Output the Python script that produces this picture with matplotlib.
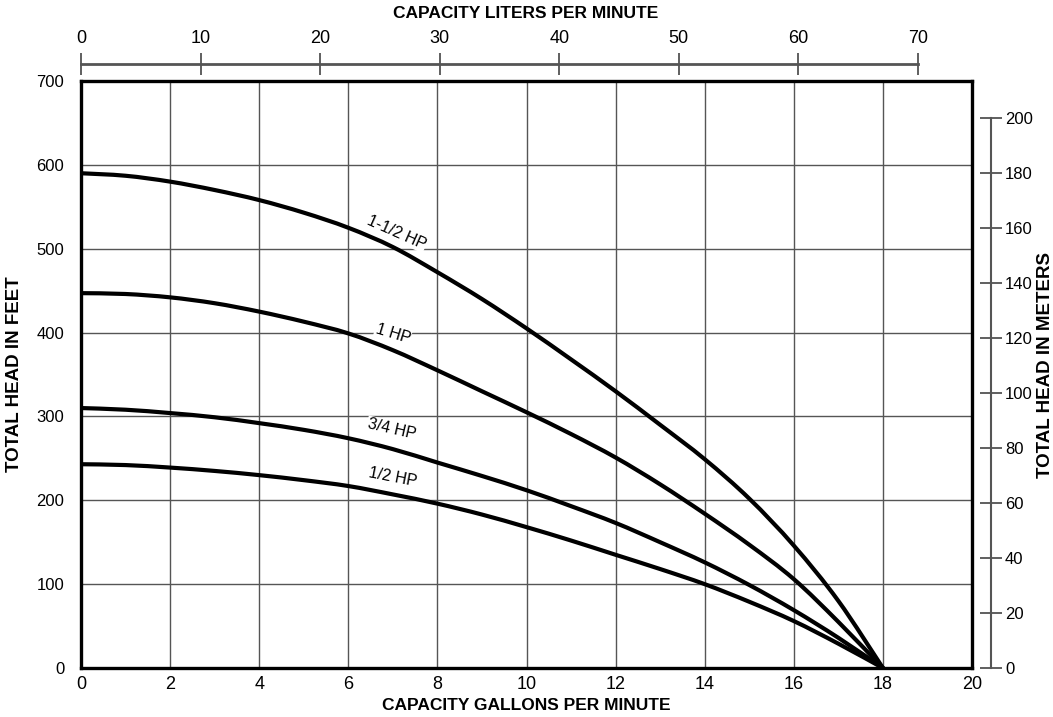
import matplotlib
matplotlib.use("Agg")
import matplotlib.pyplot as plt
from matplotlib import font_manager as fm
from matplotlib.path import Path
from matplotlib.patches import PathPatch
import numpy as np

# ---- data ----
gpm = [0, 1, 2, 3, 4, 5, 6, 7, 8, 9, 10, 11, 12, 13, 14, 15, 16, 17, 18]
head_1_5hp = [590, 587, 580, 570, 558, 543, 525, 502, 472, 440, 405, 368, 330, 290, 249, 202, 146, 80, 0]
head_1hp = [447, 446, 442, 435, 425, 413, 399, 379, 355, 330, 305, 279, 251, 219, 184, 147, 106, 55, 0]
head_3_4hp = [310, 308, 304, 299, 292, 284, 274, 261, 245, 229, 212, 193, 173, 150, 126, 99, 69, 36, 0]
head_1_2hp = [243, 242, 239, 235, 230, 224, 217, 207, 196, 183, 168, 152, 135, 118, 100, 79, 56, 29, 0]
series_names = ["1-1/2 HP", "1 HP", "3/4 HP", "1/2 HP"]
series_values = [head_1_5hp, head_1hp, head_3_4hp, head_1_2hp]
label_pos = [(7.08, 519), (7.0, 399), (6.97, 285), (7.0, 227)]
label_rot = [-24, -17, -13, -11]

gpm_ticks = list(range(0, 21, 2))
feet_ticks = list(range(0, 701, 100))
liter_ticks = list(range(0, 71, 10))
meter_ticks = list(range(0, 201, 20))

# ---- fonts ----
names = {f.name for f in fm.fontManager.ttflist}
narrow = "Liberation Sans Narrow" if "Liberation Sans Narrow" in names else "Liberation Sans"
reg = "Liberation Sans"

W, H = 1053, 717
fig = plt.figure(figsize=(W / 100, H / 100), dpi=100)

def fx(px):
    return px / W

def fy(py):
    return 1 - py / H

def smooth_path(xs, ys):
    # Catmull-Rom through the data points, drawn as cubic Bezier segments
    P = np.column_stack([xs, ys]).astype(float)
    n = len(P)
    verts = [P[0]]
    codes = [Path.MOVETO]
    for i in range(n - 1):
        p0 = P[i - 1] if i > 0 else P[i]
        p1 = P[i]
        p2 = P[i + 1]
        p3 = P[i + 2] if i + 2 < n else P[i + 1]
        c1 = p1 + (p2 - p0) / 6.0
        c2 = p2 - (p3 - p1) / 6.0
        verts += [c1, c2, p2]
        codes += [Path.CURVE4] * 3
    return Path(verts, codes)

L, R, T, B = 81, 972, 81, 668
ax = fig.add_axes([fx(L), fy(B), fx(R - L), fy(T) - fy(B)])
ax.set_xlim(0, 20)
ax.set_ylim(0, 700)
ax.set_xticks(gpm_ticks)
ax.set_yticks(feet_ticks)
ax.grid(True, color="#555555", linewidth=1.0)
ax.set_axisbelow(True)
for s in ax.spines.values():
    s.set_linewidth(2.4)
    s.set_color("black")
ax.tick_params(axis="both", length=0)
ax.tick_params(axis="x", pad=6)
ax.tick_params(axis="y", pad=12)
for lab in ax.get_xticklabels():
    lab.set_fontfamily(narrow)
    lab.set_fontsize(13)
for lab in ax.get_yticklabels():
    lab.set_fontfamily(reg)
    lab.set_fontsize(12)

for name, vals, pos, rot in zip(series_names, series_values, label_pos, label_rot):
    patch = PathPatch(smooth_path(gpm, vals), facecolor="none", edgecolor="black",
                      linewidth=3.0, capstyle="round", joinstyle="round", zorder=3)
    ax.add_patch(patch)
    ax.text(pos[0], pos[1], name, rotation=rot, rotation_mode="anchor",
            ha="center", va="center", fontsize=11.5, family=reg, zorder=4,
            bbox=dict(facecolor="white", edgecolor="none", pad=0.5))

# ---- top liters scale ----
axt = fig.add_axes([fx(81), fy(64), fx(918 - 81), 0.0001])
axt.set_xlim(0, 70)
axt.set_ylim(0, 1)
for k in ["left", "right", "bottom"]:
    axt.spines[k].set_visible(False)
axt.spines["top"].set_linewidth(2.0)
axt.spines["top"].set_color("#555555")
axt.set_yticks([])
axt.xaxis.tick_top()
axt.set_xticks(liter_ticks)
axt.tick_params(axis="x", direction="inout", length=16, width=1.2, color="#444444",
                pad=4, labelsize=13)
for lab in axt.get_xticklabels():
    lab.set_fontfamily(narrow)
axt.patch.set_visible(False)

# ---- right meters scale ----
ft_per_m = 1 / 0.3048
axr = fig.add_axes([fx(991), fy(B), 0.0001, fy(T) - fy(B)])
axr.set_ylim(0, 700 / ft_per_m)
axr.set_xticks([])
for k in ["right", "top", "bottom"]:
    axr.spines[k].set_visible(False)
axr.spines["left"].set_linewidth(1.5)
axr.spines["left"].set_color("#555555")
axr.spines["left"].set_bounds(0, 200)
axr.set_yticks(meter_ticks)
axr.tick_params(axis="y", left=True, right=False, labelleft=False, labelright=True,
                direction="inout", length=16, width=1.2, color="#444444", pad=2,
                labelsize=12)
for lab in axr.get_yticklabels():
    lab.set_fontfamily(reg)
axr.patch.set_visible(False)

# ---- titles ----
fig.text(fx(526), fy(13), "CAPACITY LITERS PER MINUTE", ha="center", va="center",
         family=narrow, fontweight="bold", fontsize=12.5)
fig.text(fx(526), fy(705), "CAPACITY GALLONS PER MINUTE", ha="center", va="center",
         family=narrow, fontweight="bold", fontsize=12.5)
fig.text(fx(15), fy(374), "TOTAL HEAD IN FEET", rotation=90, ha="center", va="center",
         family=reg, fontweight="bold", fontsize=13.5)
fig.text(fx(1045), fy(365), "TOTAL HEAD IN METERS", rotation=90, ha="center", va="center",
         family=reg, fontweight="bold", fontsize=13.5)

fig.savefig("out.png", dpi=100)
